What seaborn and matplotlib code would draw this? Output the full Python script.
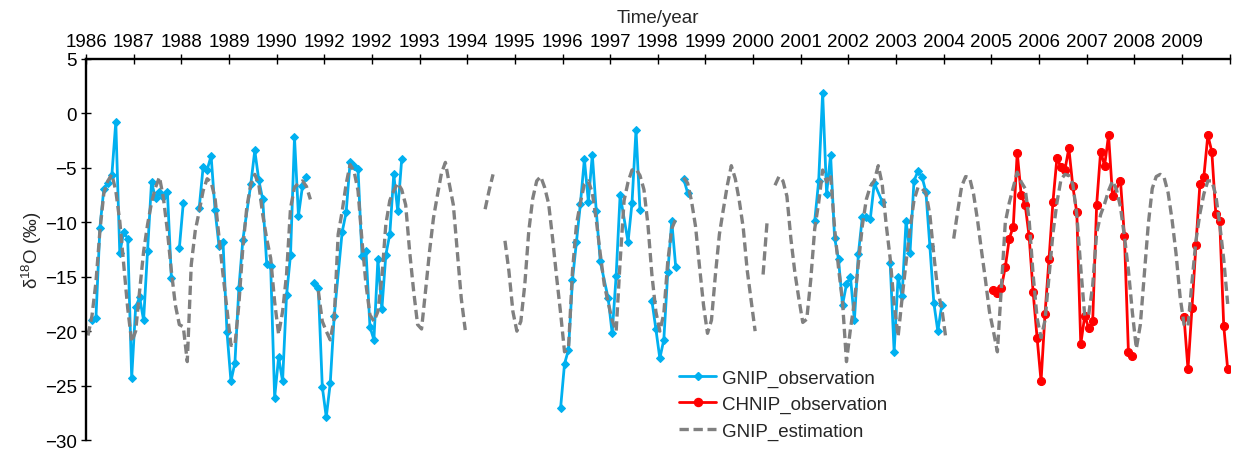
import numpy as np
import pandas as pd
import matplotlib
matplotlib.use('Agg')
import matplotlib.pyplot as plt
from matplotlib.lines import Line2D
import seaborn as sns

# --- Data (monthly, month 0 = Jan 1986) ---
year_labels = ['1986', '1987', '1988', '1989', '1990', '1992', '1992', '1993',
               '1994', '1995', '1996', '1997', '1998', '1999', '2000', '2001',
               '2002', '2003', '2004', '2005', '2006', '2007', '2008', '2009']

nan = np.nan

# GNIP estimation, one value per month (gaps = nan)
gnip_est = [
    -20.4, -18.6, -15.5, -10.8, -7.3, -6.2, -5.6, -7.1, -9.9, -13.9, -17.9, -21.0,
    -20.0, -16.3, -12.7, -10.2, -8.2, -6.8, -5.85, -7.8, -10.8, -14.5, -17.6, -19.4,
    -19.6, -22.8, -13.9, -10.8, -9.0, -7.1, -6.0, -6.3, -7.8, -11.4, -14.8, -18.0,
    -21.3, -21.3, -17.5, -12.3, -8.6, -6.5, -5.6, -6.5, -9.3, -11.5, -13.3, -17.3,
    -20.3, -18.2, -14.8, -8.7, -6.8, -6.4, -6.2, -6.7, -7.9, nan, -16.3, -19.1,
    -20.0, -20.8, -18.8, -11.1, -9.0, -6.5, -4.7, -5.3, -7.1, -11.7, -15.7, -18.5,
    -19.1, -18.2, -15.1, -10.2, -8.0, -7.1, -6.4, -7.0, -8.4, -12.7, -16.3, -19.4,
    -19.8, -16.3, -12.7, -9.6, -7.5, -5.5, -4.5, -6.5, -8.4, -12.7, -17.0, -19.9,
    nan, nan, nan, nan, -8.8, -7.1, -5.6, nan, nan, -11.7, -14.5, -18.2,
    -20.0, -19.1, -15.7, -10.8, -7.8, -6.2, -5.8, -6.8, -8.3, -11.5, -15.0, -18.3,
    -21.9, -21.6, -14.5, -10.2, -8.2, -6.5, -6.2, -7.3, -9.8, -12.9, -15.7, -17.4,
    -19.0, -20.0, -13.6, -8.0, -6.3, -5.2, -5.1, -5.7, -7.0, -10.2, -14.8, -18.2,
    -20.0, -18.4, -13.6, -10.6, -9.7, nan, -5.9, -6.4, -8.1, -10.4, -14.1, -17.6,
    -20.2, -19.0, -14.8, -11.1, -8.8, -6.6, -4.8, -6.0, -8.0, -10.5, -14.4, -17.2,
    -20.0, nan, -14.8, -10.0, nan, -6.6, -5.8, -6.2, -7.6, -11.5, -14.6, -17.0,
    -19.2, -18.9, -15.3, -10.6, -8.2, -5.2, -6.3, -5.6, -10.5, -14.2, -17.3, -22.8,
    -19.8, -17.3, -13.8, -10.3, -7.9, -6.7, -6.2, -4.8, -6.5, -10.2, -13.3, -17.5,
    -20.5, -17.0, -13.7, -10.6, -8.0, -6.8, -6.9, -7.3, -9.3, -13.0, -16.3, -17.9,
    -20.6, nan, -11.5, -9.0, -6.7, -5.8, -5.9, -7.4, -9.8, -12.6, -15.3, -18.2,
    -20.0, -21.9, -16.0, -10.0, -8.2, -6.8, -5.4, -6.3, -6.9, -9.8, -14.8, -18.8,
    -20.6, -19.0, -15.0, -11.0, -8.2, -6.1, -5.6, -5.7, -6.5, -9.3, -14.2, -18.6,
    -18.5, -15.8, -11.0, -9.3, -8.3, -7.1, -6.2, -7.0, -8.6, -11.3, -14.4, -18.3,
    -21.6, -19.4, -14.8, -10.2, -6.9, -5.8, -5.6, -5.9, -7.3, -9.8, -12.9, -16.8,
    -19.4, -19.6, -15.5, -11.7, -9.2, -7.4, -6.2, -6.2, -7.5, -10.2, -13.4, -17.5,
]

# GNIP observations (nan = break in the line)
gnip_obs_month = [
    1, 2, 3, 4, 5, 6, 7, 8, 9, 10, 11, 12, 13, 14, 15, 16, 17, 18, 19, 20, 21, nan,
    23, 24, nan,
    28, 29, 30, 31, 32, 33, 34, 35, 36, 37, 38, 39, 41, 42, 43, 44, 45, 46, 47, 48,
    49, 50, 51, 52, 53, 54, 55, nan,
    57, 58, 59, 60, 61, 62, 64, 65, 66, 67, 68, 69, 70, 71, 72, 73, 74, 75, 76, 77,
    78, 79, nan,
    119, 120, 121, 122, 123, 124, 125, 126, 127, 128, 129, 131, 132, 133, 134, 136,
    137, 138, 139, nan,
    142, 143, 144, 145, 146, 147, 148, nan,
    150, 151, nan,
    183, 184, 185, 186, 187, 188, 189, 190, 191, 192, 193, 194, 195, 196, 197, 198,
    200, nan,
    202, 203, 204, 205, 206, 207, 208, 209, 210, 211, 212, 213, 214, 215,
]
gnip_obs = [
    -19.0, -18.8, -10.5, -6.9, -6.4, -5.7, -0.8, -12.8, -10.9, -11.5, -24.3, -17.8,
    -16.9, -19.0, -12.6, -6.3, -7.8, -7.2, -7.7, -7.2, -15.1, nan,
    -12.4, -8.2, nan,
    -8.7, -4.9, -5.2, -3.9, -8.9, -12.2, -11.8, -20.1, -24.6, -22.9, -16.0, -11.6,
    -6.5, -3.4, -6.1, -7.9, -13.8, -14.0, -26.1, -22.4, -24.6, -16.7, -13.0, -2.2,
    -9.4, -6.7, -5.8, nan,
    -15.6, -16.0, -25.1, -27.9, -24.8, -18.6, -10.9, -9.1, -4.5, -4.8, -5.1, -13.1,
    -12.6, -19.6, -20.8, -13.4, -18.0, -13.0, -11.1, -5.6, -9.0, -4.2, nan,
    -27.1, -23.0, -21.7, -15.3, -11.8, -8.3, -4.2, -8.1, -3.8, -9.0, -13.6, -17.0,
    -20.2, -14.9, -7.5, -11.8, -8.2, -1.5, -8.9, nan,
    -17.2, -19.8, -22.5, -20.8, -14.6, -9.9, -14.1, nan,
    -6.0, -7.3, nan,
    -9.9, -6.2, 1.9, -7.4, -3.8, -11.4, -13.4, -17.6, -15.7, -15.0, -19.0, -12.9,
    -9.5, -9.5, -9.7, -6.4, -8.1, nan,
    -13.7, -21.9, -15.0, -16.8, -9.9, -12.8, -6.2, -5.3, -5.8, -7.2, -12.2, -17.4,
    -20.0, -17.6,
]

# CHNIP observations
chnip_obs_month = [
    228, 229, 230, 231, 232, 233, 234, 235, 236, 237, 238, 239, 240, 241, 242, 243,
    244, 245, 246, 247, 248, 249, 250, 251, 252, 253, 254, 255, 256, 257, 258, 260,
    261, 262, 263, nan,
    276, 277, 278, 279, 280, 281, 282, 283, 284, 285, 286, 287,
]
chnip_obs = [
    -16.2, -16.5, -16.0, -14.1, -11.5, -10.4, -3.6, -7.5, -8.4, -11.3, -16.4, -20.6,
    -24.6, -18.4, -13.4, -8.1, -4.1, -4.9, -5.2, -3.2, -6.7, -9.1, -21.2, -18.6,
    -19.7, -19.1, -8.4, -3.5, -4.8, -2.0, -7.6, -6.2, -11.3, -21.9, -22.3, nan,
    -18.7, -23.5, -17.9, -12.1, -6.5, -5.8, -2.0, -3.5, -9.2, -9.9, -19.5, -23.5,
]


def to_frame(months, values):
    df = pd.DataFrame({'month': months, 'd18o': values})
    df['seg'] = df['d18o'].isna().cumsum()
    df = df.dropna()
    df['t'] = df['month'] + 0.5
    return df


df_gnip = to_frame(gnip_obs_month, gnip_obs)
df_chnip = to_frame(chnip_obs_month, chnip_obs)
df_est = to_frame(list(range(len(gnip_est))), gnip_est)

# --- Style ---
sns.set_style('ticks')
plt.rcParams['font.family'] = ['Liberation Sans', 'DejaVu Sans']
plt.rcParams['mathtext.fontset'] = 'custom'
plt.rcParams['mathtext.rm'] = 'Liberation Sans'
plt.rcParams['mathtext.it'] = 'Liberation Sans:italic'

BLUE = '#00b0f0'
RED = '#ff0000'
GREY = '#808080'
FS = 13.5

fig = plt.figure(figsize=(12.34, 4.52), dpi=100)
ax = fig.add_axes([0.0697, 0.0243, 0.9268, 0.843])

sns.lineplot(data=df_gnip, x='t', y='d18o', units='seg', estimator=None,
             color=BLUE, lw=2.0, marker='D', markersize=4.0,
             markeredgecolor=BLUE, ax=ax, sort=False)
sns.lineplot(data=df_chnip, x='t', y='d18o', units='seg', estimator=None,
             color=RED, lw=2.0, marker='o', markersize=5.8,
             markeredgecolor=RED, ax=ax, sort=False)
sns.lineplot(data=df_est, x='t', y='d18o', units='seg', estimator=None,
             color=GREY, lw=2.4, linestyle=(0, (2.8, 1.4)), ax=ax, sort=False)

# --- Axes ---
ax.set_xlim(0, 288)
ax.set_ylim(-30, 5)
ax.set_xticks(np.arange(0, 289, 12))
ax.set_xticklabels(year_labels + [''])
ax.set_yticks(np.arange(-30, 6, 5))
ax.xaxis.tick_top()
ax.xaxis.set_label_position('top')
ax.set_xlabel('Time/year', fontsize=FS, labelpad=8)
ax.set_ylabel(r'δ$^{18}$O (‰)', fontsize=FS, labelpad=1)

for side in ['right', 'bottom']:
    ax.spines[side].set_visible(False)
for side in ['top', 'left']:
    ax.spines[side].set_linewidth(1.7)
    ax.spines[side].set_color('black')

ax.tick_params(axis='both', direction='inout', length=7, width=1.0,
               labelsize=FS, colors='black', pad=3)

handles = [
    Line2D([], [], color=BLUE, lw=2.0, marker='D', markersize=4.0),
    Line2D([], [], color=RED, lw=2.0, marker='o', markersize=5.8),
    Line2D([], [], color=GREY, lw=2.4, linestyle=(0, (2.8, 1.4))),
]
ax.legend(handles, ['GNIP_observation', 'CHNIP_observation', 'GNIP_estimation'],
          loc='lower left', bbox_to_anchor=(0.5036, -0.044), frameon=False,
          fontsize=FS, handlelength=2.0, handletextpad=0.3, labelspacing=0.5)

fig.savefig('out.png', dpi=100)
